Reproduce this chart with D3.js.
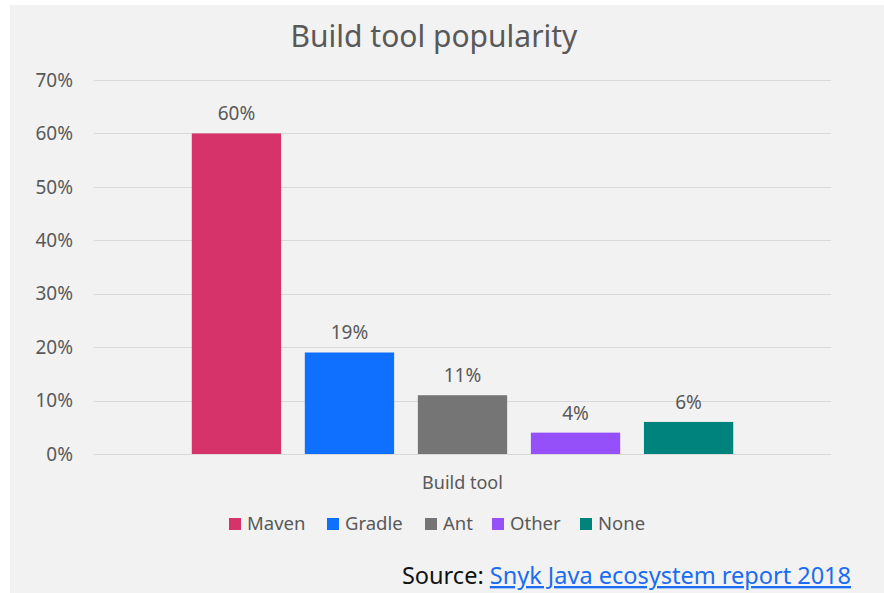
<!DOCTYPE html>
<html>
<head>
<meta charset="utf-8">
<script src="https://cdn.jsdelivr.net/npm/d3@7/dist/d3.min.js"></script>
<style>
  html, body { margin: 0; padding: 0; background: #fff; }
  svg { display: block; }
</style>
</head>
<body>
<script>
(function () {
    'use strict';

    const width = 884;
    const height = 593;

    // data
    const category = ['Build tool'];
    const series = ['Maven', 'Gradle', 'Ant', 'Other', 'None'];
    const values = [60, 19, 11, 4, 6];
    const colors = ['#d6336b', '#0f6fff', '#757575', '#9650fa', '#00827d'];
    const yTicks = [0, 10, 20, 30, 40, 50, 60, 70];

    const font = '"Noto Sans", "Open Sans", sans-serif';
    const grey = '#595959';

    const svg = d3.select('body')
        .append('svg')
        .attr('width', width)
        .attr('height', height);

    // chart panel
    svg.append('rect')
        .attr('x', 10).attr('y', 5)
        .attr('width', width - 10).attr('height', height - 5)
        .attr('fill', '#f2f2f2');

    const plot = {left: 94, right: 831, top: 80, bottom: 454};

    const y = d3.scaleLinear()
        .domain([0, 70])
        .range([plot.bottom, plot.top]);

    const x0 = d3.scaleBand()
        .domain(category)
        .range([plot.left, plot.right])
        .paddingInner(0)
        .paddingOuter(0.152);

    const x1 = d3.scaleBand()
        .domain(series)
        .range([0, x0.bandwidth()])
        .paddingInner(0.21)
        .paddingOuter(0.105);

    // gridlines
    svg.append('g')
        .selectAll('line')
        .data(yTicks)
        .enter().append('line')
        .attr('x1', plot.left).attr('x2', plot.right)
        .attr('y1', d => Math.round(y(d)) + 0.5)
        .attr('y2', d => Math.round(y(d)) + 0.5)
        .attr('stroke', '#d9d9d9')
        .attr('stroke-width', 1.2);

    // y tick labels
    svg.append('g')
        .selectAll('text')
        .data(yTicks)
        .enter().append('text')
        .attr('x', 73)
        .attr('y', d => y(d))
        .attr('dy', '0.35em')
        .attr('text-anchor', 'end')
        .attr('font-family', font)
        .attr('font-size', 19)
        .attr('fill', grey)
        .text(d => d + '%');

    const rows = series.map((s, i) => ({name: s, value: values[i], color: colors[i]}));

    const group = svg.append('g')
        .attr('transform', `translate(${x0(category[0])},0)`);

    group.selectAll('.bar')
        .data(rows)
        .enter().append('rect')
        .attr('class', 'bar')
        .attr('x', d => x1(d.name))
        .attr('y', d => y(d.value))
        .attr('width', x1.bandwidth())
        .attr('height', d => y(0) - y(d.value))
        .attr('fill', d => d.color);

    group.selectAll('.label')
        .data(rows)
        .enter().append('text')
        .attr('class', 'label')
        .attr('x', d => x1(d.name) + x1.bandwidth() / 2)
        .attr('y', d => y(d.value) - 13)
        .attr('text-anchor', 'middle')
        .attr('font-family', font)
        .attr('font-size', 19)
        .attr('fill', grey)
        .text(d => d.value + '%');

    // title
    svg.append('text')
        .attr('x', 434)
        .attr('y', 47)
        .attr('text-anchor', 'middle')
        .attr('font-family', font)
        .attr('font-size', 30)
        .attr('fill', grey)
        .text('Build tool popularity');

    // category axis title
    svg.append('text')
        .attr('x', x0(category[0]) + x0.bandwidth() / 2)
        .attr('y', 489)
        .attr('text-anchor', 'middle')
        .attr('font-family', font)
        .attr('font-size', 18)
        .attr('fill', grey)
        .text(category[0]);

    // legend
    const legendX = [229, 327, 425, 492, 580];
    const legend = svg.append('g')
        .selectAll('g')
        .data(rows)
        .enter().append('g')
        .attr('transform', (d, i) => `translate(${legendX[i]},524)`);

    legend.append('rect')
        .attr('x', 0).attr('y', -6)
        .attr('width', 12).attr('height', 12)
        .attr('fill', d => d.color);

    legend.append('text')
        .attr('x', 18)
        .attr('dy', '0.35em')
        .attr('font-family', font)
        .attr('font-size', 18.5)
        .attr('fill', grey)
        .text(d => d.name);

    // source line
    const source = svg.append('text')
        .attr('x', 851)
        .attr('y', 584)
        .attr('text-anchor', 'end')
        .attr('font-family', font)
        .attr('font-size', 23.5)
        .attr('fill', '#111');
    source.append('tspan').text('Source: ');
    source.append('tspan')
        .attr('fill', '#1a6cf0')
        .attr('text-decoration', 'underline')
        .text('Snyk Java ecosystem report 2018');
}());
</script>
</body>
</html>
